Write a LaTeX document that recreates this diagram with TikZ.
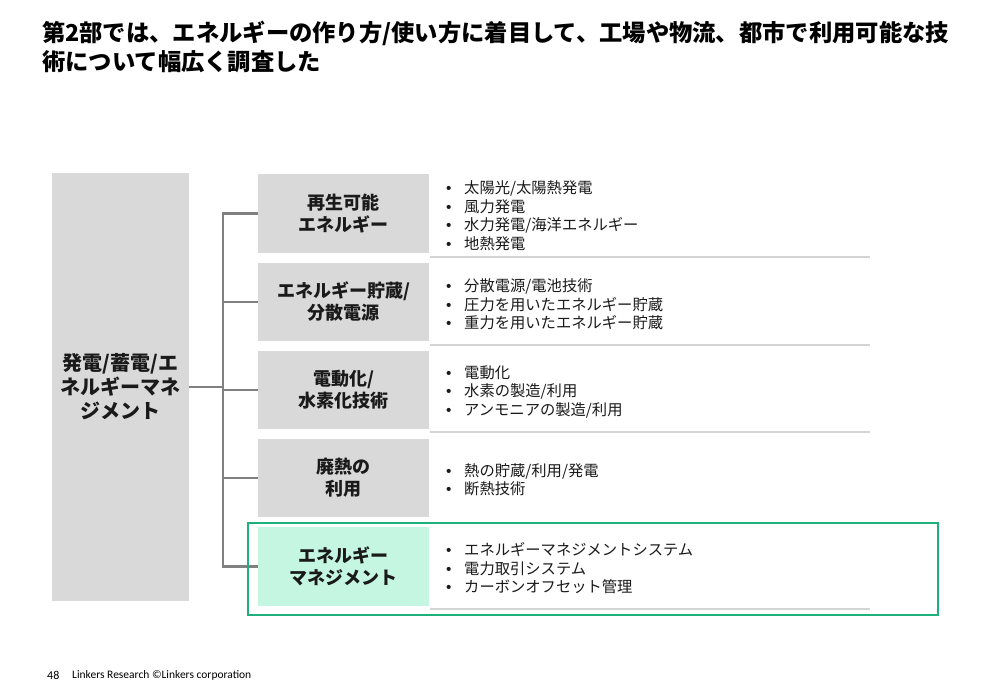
\documentclass[tikz,border=0pt]{standalone}
\usepackage{fontspec}
\setmainfont{Noto Sans CJK JP}
\newfontfamily\latinfont{Liberation Sans}
\newfontfamily\footfont{Carlito}
\definecolor{boxgray}{HTML}{D9D9D9}
\definecolor{conngray}{HTML}{808080}
\definecolor{sepgray}{HTML}{D4D4D4}
\definecolor{mint}{HTML}{C4F6E2}
\definecolor{framegreen}{HTML}{1EB07A}
\definecolor{textdark}{HTML}{1A1A1A}
\newcommand\mybul{\makebox[18pt][l]{{\latinfont •}}}
\begin{document}
\begin{tikzpicture}[x=1pt,y=-1pt,
  catbox/.style={rectangle, fill=boxgray, minimum width=171pt, minimum height=78pt, inner sep=0pt, align=center, text=textdark, font=\bfseries\fontsize{18}{22}\selectfont},
  mainbox/.style={rectangle, fill=boxgray, minimum width=137pt, minimum height=428pt, inner sep=0pt, align=center, text=textdark, font=\bfseries\fontsize{20}{24}\selectfont},
  listtext/.style={anchor=west, inner sep=0pt, align=left, text=textdark, font=\fontsize{15.3}{18.5}\selectfont},
  conn/.style={draw=conngray, line width=2.5pt},
  sepline/.style={draw=sepgray, line width=1.5pt},
  titletext/.style={anchor=base west, inner sep=0pt, text=black, font=\bfseries\fontsize{23.3}{29}\selectfont}
]
\useasboundingbox (0,0) rectangle (1000,692);
\fill[white] (0,0) rectangle (1000,692);

% title
\node[titletext] (t1) at (42,42) {第2部では、エネルギーの作り方/使い方に着目して、工場や物流、都市で利用可能な技};
\node[titletext] (t2) at (42,71) {術について幅広く調査した};

% separator lines
\draw[sepline] (430,257) -- (870,257);
\draw[sepline] (430,345) -- (870,345);
\draw[sepline] (430,432) -- (870,432);
\draw[sepline] (430,609) -- (870,609);

% main box
\node[mainbox] (main) at (120.5,387) {発電/蓄電/エ\\ネルギーマネ\\ジメント};

% category boxes
\node[catbox, minimum height=79pt] (c1) at (343.5,213.5) {再生可能\\エネルギー};
\node[catbox] (c2) at (343.5,302) {エネルギー貯蔵/\\分散電源};
\node[catbox] (c3) at (343.5,390) {電動化/\\水素化技術};
\node[catbox] (c4) at (343.5,478) {廃熱の\\利用};
\node[catbox, fill=mint, minimum height=79pt] (c5) at (343.5,566.5) {エネルギー\\マネジメント};

% connectors
\coordinate (bus) at (223,387);
\draw[conn] (main.east |- bus) -- (bus);
\draw[conn, line cap=rect] (c1.west -| bus) -- (c5.west -| bus);
\foreach \c in {c1,c2,c3,c4,c5} {
  \draw[conn] (\c.west -| bus) -- (\c.west);
}

% lists
\node[listtext] (l1) at (446,215.5) {\mybul 太陽光/太陽熱発電\\\mybul 風力発電\\\mybul 水力発電/海洋エネルギー\\\mybul 地熱発電};
\node[listtext] (l2) at (446,304.5) {\mybul 分散電源/電池技術\\\mybul 圧力を用いたエネルギー貯蔵\\\mybul 重力を用いたエネルギー貯蔵};
\node[listtext] (l3) at (446,392) {\mybul 電動化\\\mybul 水素の製造/利用\\\mybul アンモニアの製造/利用};
\node[listtext] (l4) at (446,480) {\mybul 熱の貯蔵/利用/発電\\\mybul 断熱技術};
\node[listtext] (l5) at (446,568.5) {\mybul エネルギーマネジメントシステム\\\mybul 電力取引システム\\\mybul カーボンオフセット管理};

% highlight frame
\draw[draw=framegreen, line width=2pt] (248,523) rectangle (938,615);

% footer
\node[anchor=west, inner sep=0pt, font=\footfont\fontsize{12}{14}\selectfont] (pg) at (47,675) {48};
\node[anchor=west, inner sep=0pt, font=\footfont\fontsize{11.5}{14}\selectfont] (ft) at (72,675) {Linkers Research ©Linkers corporation};
\end{tikzpicture}
\end{document}
